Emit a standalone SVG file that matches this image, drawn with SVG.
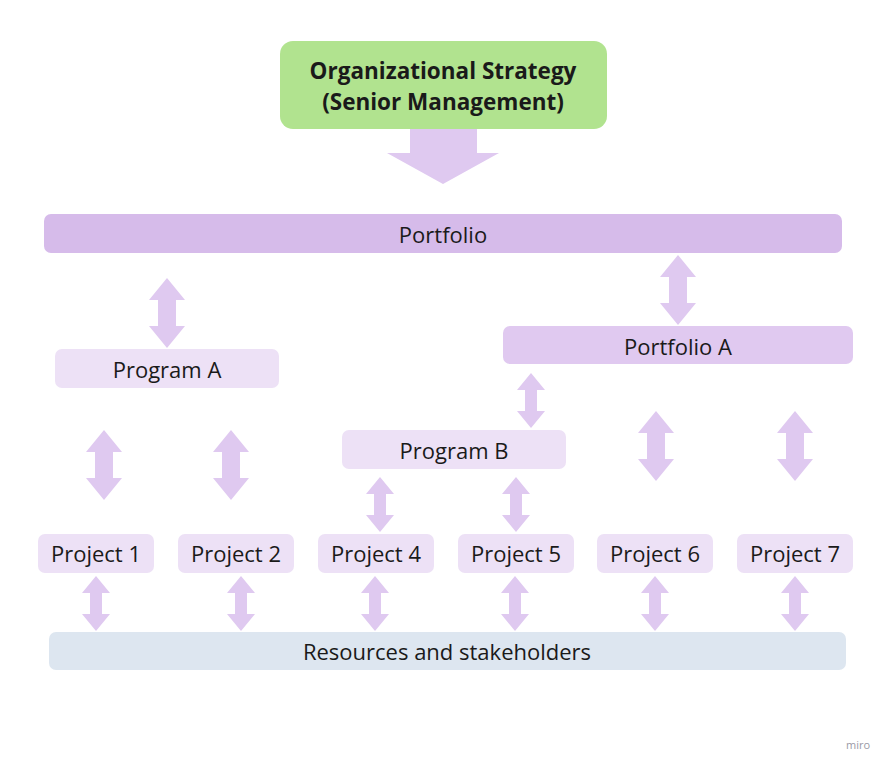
<svg xmlns="http://www.w3.org/2000/svg" xmlns:xlink="http://www.w3.org/1999/xlink" width="893" height="768" viewBox="0 0 893 768">
<style>
text{font-family:"Open Sans","Noto Sans","Liberation Sans",sans-serif;fill:#1a1a1a;text-anchor:middle;dominant-baseline:central}
.lbl{font-size:22px}
.title{font-size:22.5px;font-weight:bold}
.arr{fill:#dfc9f0}
.proj{fill:#ede1f6}
.prog{fill:#ede1f6}
</style>
<defs>
<path id="big" d="M0,0 L18,22 L9,22 L9,48 L18,48 L0,70 L-18,48 L-9,48 L-9,22 L-18,22 Z"/>
<path id="small" d="M0,0 L14,17 L6,17 L6,38 L14,38 L0,55 L-14,38 L-6,38 L-6,17 L-14,17 Z"/>
</defs>
<rect width="893" height="768" fill="#ffffff"/>
<g id="connectors" class="arr">
<path d="M410,129 L477,129 L477,153 L499,153 L443,184 L387,153 L410,153 Z"/>
<use href="#big" x="167" y="278"/>
<use href="#big" x="678" y="255"/>
<use href="#big" x="104" y="430"/>
<use href="#big" x="231" y="430"/>
<use href="#big" x="656" y="411"/>
<use href="#big" x="795" y="411"/>
<use href="#small" x="531" y="373"/>
<use href="#small" x="380" y="477"/>
<use href="#small" x="516" y="477"/>
<use href="#small" x="96" y="576"/>
<use href="#small" x="241" y="576"/>
<use href="#small" x="375" y="576"/>
<use href="#small" x="515" y="576"/>
<use href="#small" x="655" y="576"/>
<use href="#small" x="795" y="576"/>
</g>
<g id="strategy">
<rect x="280" y="41" width="327" height="88" rx="13" fill="#b1e38f"/>
<text class="title" x="443" y="70">Organizational Strategy</text>
<text class="title" x="443" y="101">(Senior Management)</text>
</g>
<g id="portfolio">
<rect x="44" y="214" width="798" height="39" rx="7" fill="#d6bbea"/>
<text class="lbl" x="443" y="234">Portfolio</text>
</g>
<g id="portfolio-a">
<rect x="503" y="326" width="350" height="38" rx="7" fill="#e0c9f0"/>
<text class="lbl" x="678" y="346">Portfolio A</text>
</g>
<g id="program-a">
<rect x="55" y="349" width="224" height="39" rx="7" class="prog"/>
<text class="lbl" x="167" y="369">Program A</text>
</g>
<g id="program-b">
<rect x="342" y="430" width="224" height="39" rx="7" class="prog"/>
<text class="lbl" x="454" y="450">Program B</text>
</g>
<g id="project-1">
<rect x="38" y="534" width="116" height="39" rx="7" class="proj"/>
<text class="lbl" x="96" y="553">Project 1</text>
</g>
<g id="project-2">
<rect x="178" y="534" width="116" height="39" rx="7" class="proj"/>
<text class="lbl" x="236" y="553">Project 2</text>
</g>
<g id="project-4">
<rect x="318" y="534" width="116" height="39" rx="7" class="proj"/>
<text class="lbl" x="376" y="553">Project 4</text>
</g>
<g id="project-5">
<rect x="458" y="534" width="116" height="39" rx="7" class="proj"/>
<text class="lbl" x="516" y="553">Project 5</text>
</g>
<g id="project-6">
<rect x="597" y="534" width="116" height="39" rx="7" class="proj"/>
<text class="lbl" x="655" y="553">Project 6</text>
</g>
<g id="project-7">
<rect x="737" y="534" width="116" height="39" rx="7" class="proj"/>
<text class="lbl" x="795" y="553">Project 7</text>
</g>
<g id="resources">
<rect x="49" y="632" width="797" height="38" rx="7" fill="#dde6f0"/>
<text class="lbl" x="447" y="651">Resources and stakeholders</text>
</g>
<text x="858" y="744" style="font-size:11px;fill:#9a9aa6">miro</text>
</svg>
